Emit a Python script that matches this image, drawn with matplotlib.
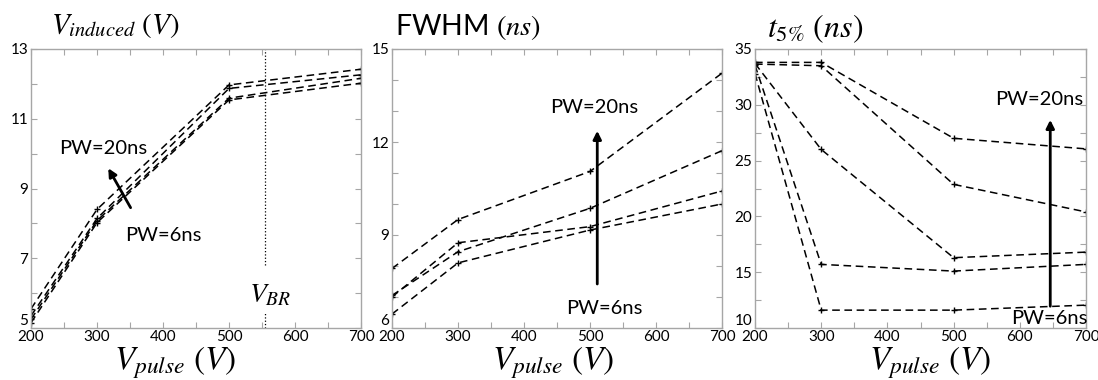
import matplotlib
matplotlib.use("Agg")
import matplotlib.pyplot as plt
from matplotlib.ticker import MultipleLocator, FixedLocator

plt.rcParams['font.family'] = ['Lato', 'DejaVu Sans']
plt.rcParams['mathtext.fontset'] = 'stix'

# ---------------- data ----------------
v_pulse = [200, 300, 500, 700]

# Panel 1: induced voltage (V), PW ascending (6ns ... 20ns)
vind_pw6 = [5.15, 8.02, 11.54, 12.02]
vind_pw_b = [5.25, 8.08, 11.59, 12.16]
vind_pw_c = [5.35, 8.14, 11.87, 12.26]
vind_pw20 = [5.55, 8.40, 11.97, 12.42]
v_br = 555
vind_ticks = [5, 7, 9, 11, 13]

# Panel 2: FWHM (ns)
fwhm_pw6 = [6.45, 8.10, 9.16, 10.00]
fwhm_pw_b = [7.00, 8.75, 9.27, 10.42]
fwhm_pw_c = [7.05, 8.46, 9.86, 11.72]
fwhm_pw20 = [7.92, 9.50, 11.05, 14.22]
fwhm_ticks = [6, 9, 12, 15]

# Panel 3: t5% (ns)
t5_pw6 = [32.8, 11.6, 11.6, 12.05]
t5_pw_b = [33.55, 15.7, 15.1, 15.7]
t5_pw_c = [33.7, 26.0, 16.3, 16.8]
t5_pw_d = [33.65, 33.5, 22.87, 20.4]
t5_pw20 = [33.8, 33.8, 27.0, 26.05]
t5_ticks = [10, 15, 20, 25, 30, 35]

# ---------------- figure ----------------
fig = plt.figure(figsize=(10.98, 3.80), dpi=100)
W, H = 1098, 380
top_px, bot_px = 49, 328

def make_ax(left_px, right_px):
    return fig.add_axes([left_px / W, 1 - bot_px / H,
                         (right_px - left_px) / W, (bot_px - top_px) / H])

ax1 = make_ax(31, 361)
ax2 = make_ax(392, 722)
ax3 = make_ax(755, 1086)

spine_col = '#a6a6a6'
line_kw = dict(color='black', linestyle=(0, (5, 3)), linewidth=1.1,
               marker='+', markersize=5, markeredgewidth=1.0)

def style(ax, ylim, yticks, yminor):
    ax.set_xlim(200, 700)
    ax.set_ylim(*ylim)
    ax.xaxis.set_major_locator(MultipleLocator(100))
    ax.xaxis.set_minor_locator(MultipleLocator(50))
    ax.yaxis.set_major_locator(FixedLocator(yticks))
    ax.yaxis.set_minor_locator(MultipleLocator(yminor))
    for s in ax.spines.values():
        s.set_color(spine_col)
        s.set_linewidth(1.0)
    ax.tick_params(which='both', direction='in', top=True, right=True,
                   color=spine_col, labelsize=11, labelcolor='black')
    ax.tick_params(which='major', length=4, width=0.8)
    ax.tick_params(which='minor', length=4, width=0.8)
    ax.tick_params(axis='x', pad=1.5)
    ax.tick_params(axis='y', pad=2)
    # lowest y label sits just above the axis bottom, as in the reference
    ax.yaxis.get_major_ticks()[0].label1.set_verticalalignment('bottom')

# Panel 1
for s in [vind_pw6, vind_pw_b, vind_pw_c, vind_pw20]:
    ax1.plot(v_pulse, s, **line_kw)
style(ax1, (5, 13), vind_ticks, 1)
ax1.plot([v_br, v_br], [6.8, 13], color='black', linestyle=':', linewidth=0.9)
ax1.plot([v_br, v_br], [5.0, 5.46], color='black', linestyle=':', linewidth=0.9)
ax1.text(563, 5.94, r'$V_{BR}$', fontsize=20, ha='center', va='center')
ax1.annotate('', xy=(315, 9.65), xytext=(353, 8.38),
             arrowprops=dict(arrowstyle='-|>', color='black', lw=2, mutation_scale=12))
ax1.text(309, 10.14, 'PW=20ns', fontsize=14.5, ha='center', va='center')
ax1.text(401, 7.66, 'PW=6ns', fontsize=14.5, ha='center', va='center')
ax1.text(0.06, 1.057, r'$V_{induced}\ (V)$', transform=ax1.transAxes,
         fontsize=21, ha='left', va='baseline')

# Panel 2
for s in [fwhm_pw6, fwhm_pw_b, fwhm_pw_c, fwhm_pw20]:
    ax2.plot(v_pulse, s, **line_kw)
style(ax2, (6, 15), fwhm_ticks, 1)
ax2.annotate('', xy=(511, 12.45), xytext=(511, 7.33),
             arrowprops=dict(arrowstyle='-|>', color='black', lw=2, mutation_scale=12))
ax2.text(506, 13.1, 'PW=20ns', fontsize=14.5, ha='center', va='center')
ax2.text(522, 6.63, 'PW=6ns', fontsize=14.5, ha='center', va='center')
ax2.text(0.01, 1.05, r'FWHM $(ns)$', transform=ax2.transAxes,
         fontsize=20.5, ha='left', va='baseline')

# Panel 3
for s in [t5_pw6, t5_pw_b, t5_pw_c, t5_pw_d, t5_pw20]:
    ax3.plot(v_pulse, s, **line_kw)
style(ax3, (10, 35), t5_ticks, 2.5)
ax3.annotate('', xy=(646, 28.9), xytext=(646, 11.7),
             arrowprops=dict(arrowstyle='-|>', color='black', lw=2, mutation_scale=12))
ax3.text(629, 30.5, 'PW=20ns', fontsize=14.5, ha='center', va='center')
ax3.text(645, 10.85, 'PW=6ns', fontsize=14.5, ha='center', va='center')
ax3.text(0.036, 1.043, r'$t_{5\%}\ (ns)$', transform=ax3.transAxes,
         fontsize=23, ha='left', va='baseline')

# x labels
for ax, xc in [(ax1, 0.436), (ax2, 0.488), (ax3, 0.529)]:
    ax.set_xlabel(r'$V_{pulse}\ (V)$', fontsize=24)
    ax.xaxis.set_label_coords(xc, -0.058)

fig.savefig('out.png', dpi=100)
